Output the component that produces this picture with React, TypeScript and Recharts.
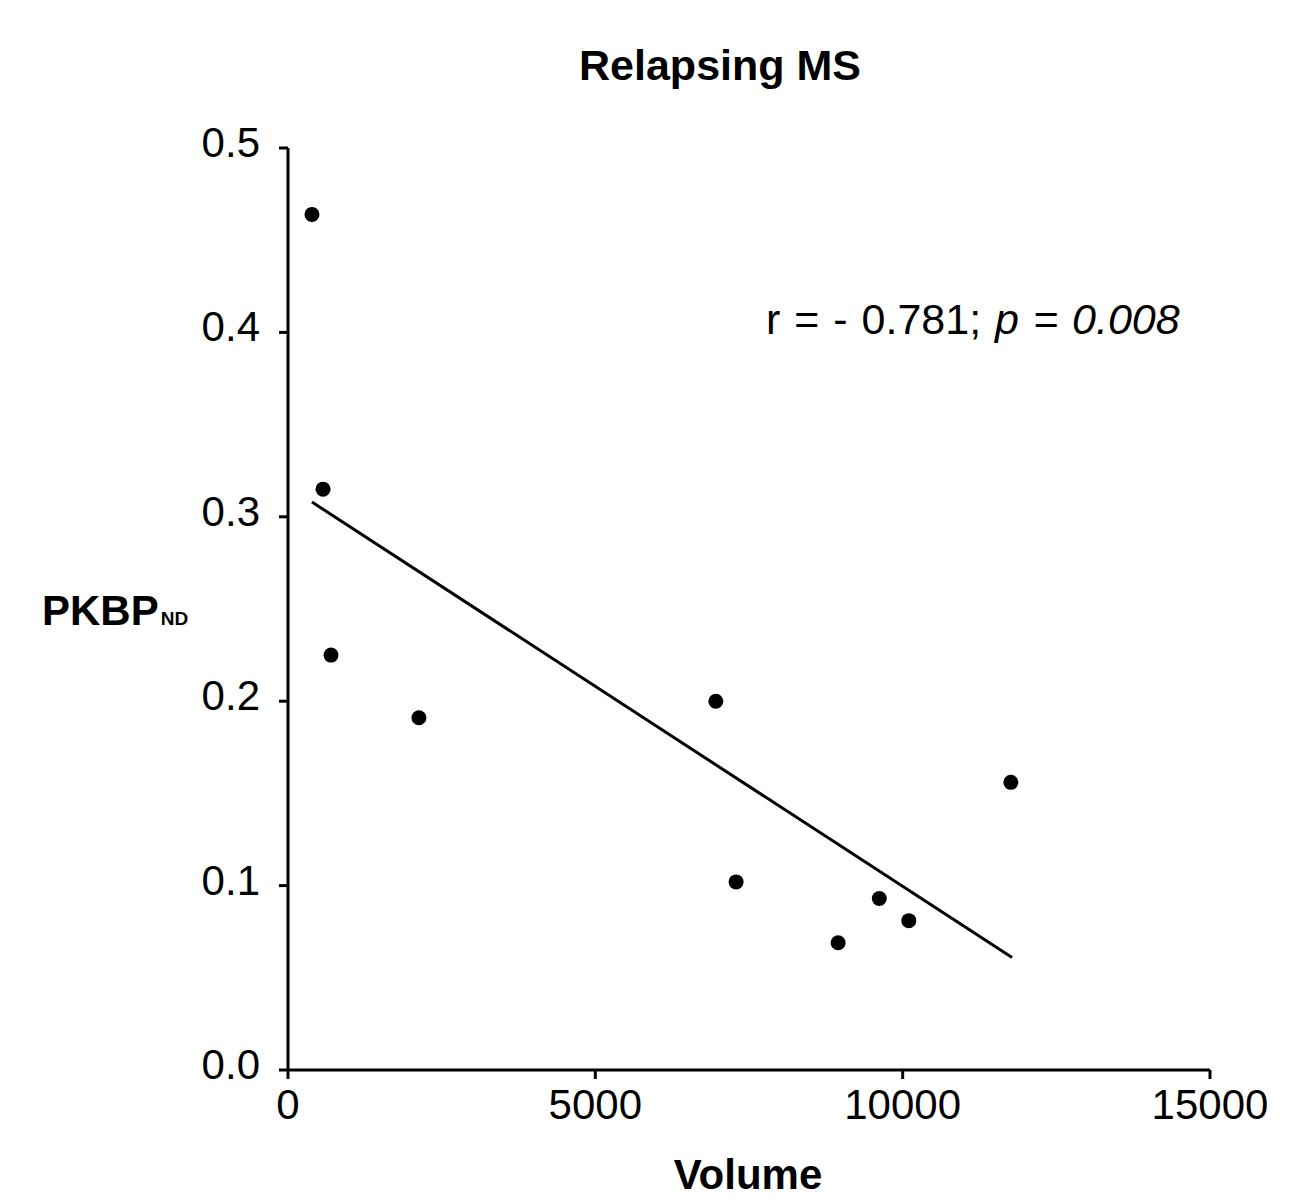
import { ScatterChart, Scatter, XAxis, YAxis, ReferenceLine, Customized } from "recharts";

// lesion volume vs PKBP_ND, relapsing MS patients
const volume = [390, 570, 700, 2130, 6960, 7290, 8950, 9620, 10100, 11760];
const pkbp = [0.464, 0.315, 0.225, 0.191, 0.2, 0.102, 0.069, 0.093, 0.081, 0.156];

// regression line end points
const fitVolume = [390, 11780];
const fitPkbp = [0.308, 0.061];

const xTicks = [0, 5000, 10000, 15000];
const yTicks = [0, 0.1, 0.2, 0.3, 0.4, 0.5];

const FONT = "'Liberation Sans', Arial, Helvetica, sans-serif";

const points = volume.map((v, i) => ({ x: v, y: pkbp[i] }));
const fitSegment = fitVolume.map((v, i) => ({ x: v, y: fitPkbp[i] }));

const YTick = ({ x, y, payload }: any) => (
  <text x={x} y={y - 6} dy="0.355em" textAnchor="end" fontSize={42} fontFamily={FONT} fill="#000">
    {Number(payload.value).toFixed(1)}
  </text>
);

const Texts = () => (
  <g fontFamily={FONT} fill="#000">
    <text x={712} y={72} fontSize={43} fontWeight="bold" textAnchor="middle">
      Relapsing MS
    </text>
    <text x={740} y={1181} fontSize={42} fontWeight="bold" textAnchor="middle">
      Volume
    </text>
    <text x={34} y={617} fontSize={42} fontWeight="bold">
      PKBP
      <tspan dx={2} fontSize={19}>ND</tspan>
    </text>
    <text x={758} y={326} fontSize={43} wordSpacing={2}>
      r = - 0.781;{" "}
      <tspan fontStyle="italic">p = 0.008</tspan>
    </text>
  </g>
);

export default function App() {
  return (
    <div style={{ width: 1297, height: 1194, background: "#fff" }}>
      <ScatterChart
        width={1297}
        height={1194}
        margin={{ top: 140, right: 95, bottom: 72, left: 180 }}
      >
        <XAxis
          type="number"
          dataKey="x"
          domain={[0, 15000]}
          ticks={xTicks}
          height={60}
          tickSize={9}
          tickMargin={10}
          axisLine={{ stroke: "#000", strokeWidth: 3 }}
          tickLine={{ stroke: "#000", strokeWidth: 3 }}
          tick={{ fontSize: 42, fill: "#000", fontFamily: FONT }}
          interval={0}
        />
        <YAxis
          type="number"
          dataKey="y"
          domain={[0, 0.5]}
          ticks={yTicks}
          width={100}
          tickSize={9}
          tickMargin={19}
          axisLine={{ stroke: "#000", strokeWidth: 3 }}
          tickLine={{ stroke: "#000", strokeWidth: 3 }}
          tick={<YTick />}
          interval={0}
        />
        <ReferenceLine
          segment={fitSegment}
          stroke="#000"
          strokeWidth={3}
          ifOverflow="visible"
        />
        <Scatter
          data={points}
          fill="#000"
          isAnimationActive={false}
          shape={(props: any) => <circle cx={props.cx} cy={props.cy} r={7.5} fill="#000" />}
        />
        <Customized component={Texts} />
      </ScatterChart>
    </div>
  );
}
